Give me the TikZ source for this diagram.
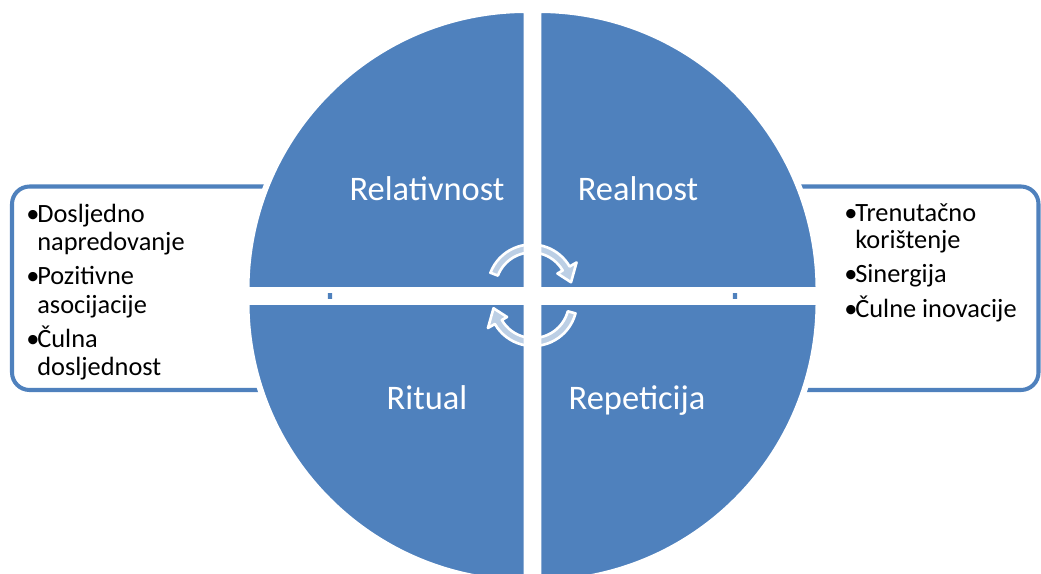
\documentclass[tikz,border=0pt]{standalone}
\usepackage{fontspec}
\setmainfont{Carlito}
\usetikzlibrary{calc}

\definecolor{quadblue}{HTML}{4F81BD}

\begin{document}
\begin{tikzpicture}[
    x=0.02cm, y=-0.02cm,
    quad/.style={fill=quadblue, draw=white, line width=3.4pt},
    sidebox/.style={draw=quadblue, fill=white, line width=2.3pt, rounded corners=10pt},
    cyclearrow/.style={fill=white, fill opacity=0.62, draw=white, line width=1.5pt, line join=round},
    quadlabel/.style={text=white, font=\fontsize{19.6}{23}\selectfont, anchor=base},
    listtext/.style={font=\fontsize{15}{18}\selectfont, anchor=base west, inner sep=0pt}
]
    \useasboundingbox (0,0) rectangle (1041,574);
    \clip (0,0) rectangle (1041,574);

    % side boxes
    \draw[sidebox] (12,186.5) rectangle (330,390);
    \draw[sidebox] (735,186.5) rectangle (1038.5,390);

    % quadrants
    \draw[quad] (526.5,290) -- ++(-280,0) arc[start angle=180, end angle=270, radius=280] -- cycle;
    \draw[quad] (538.5,290) -- ++(0,-280) arc[start angle=270, end angle=360, radius=280] -- cycle;
    \draw[quad] (538.5,302) -- ++(280,0) arc[start angle=0, end angle=90, radius=280] -- cycle;
    \draw[quad] (526.5,302) -- ++(0,280) arc[start angle=90, end angle=180, radius=280] -- cycle;

    % cycle arrows
    \coordinate (ca) at (531.5,288.5);
    \coordinate (cb) at (533,302);
    \draw[cyclearrow] ($(ca)+(-159:44)$) arc[start angle=-159, end angle=-30, radius=44]
        -- ($(ca)+(-30:52)$) -- ($(ca)+(-9:40)$) -- ($(ca)+(-30:30)$) -- ($(ca)+(-30:36)$)
        arc[start angle=-30, end angle=-159, radius=36] -- cycle;
    \draw[cyclearrow] ($(cb)+(15:44)$) arc[start angle=15, end angle=150, radius=44]
        -- ($(cb)+(150:52)$) -- ($(cb)+(171:40)$) -- ($(cb)+(150:30)$) -- ($(cb)+(150:36)$)
        arc[start angle=150, end angle=15, radius=36] -- cycle;

    % quadrant labels
    \node[quadlabel] (rel) at (427,201) {Relativnost};
    \node[quadlabel] (rea) at (638,201) {Realnost};
    \node[quadlabel] (rit) at (427,409) {Ritual};
    \node[quadlabel] (rep) at (637,409) {Repeticija};

    % left list
    \node[listtext] (lb1) at (26,223) {\textbullet};
    \node[listtext] (l1) at (37,223) {Dosljedno};
    \node[listtext] (l1b) at (37,251) {napredovanje};
    \node[listtext] (lb2) at (26,284) {\textbullet};
    \node[listtext] (l2) at (37,284) {Pozitivne};
    \node[listtext] (l2b) at (37,313) {asocijacije};
    \node[listtext] (lb3) at (26,347) {\textbullet};
    \node[listtext] (l3) at (37,347) {Čulna};
    \node[listtext] (l3b) at (37,375) {dosljednost};

    % right list
    \node[listtext] (rb1) at (844,222) {\textbullet};
    \node[listtext] (r1) at (855,222) {Trenutačno};
    \node[listtext] (r1b) at (855,249) {korištenje};
    \node[listtext] (rb2) at (844,282) {\textbullet};
    \node[listtext] (r2) at (855,282) {Sinergija};
    \node[listtext] (rb3) at (844,317) {\textbullet};
    \node[listtext] (r3) at (855,317) {Čulne inovacije};
\end{tikzpicture}
\end{document}
